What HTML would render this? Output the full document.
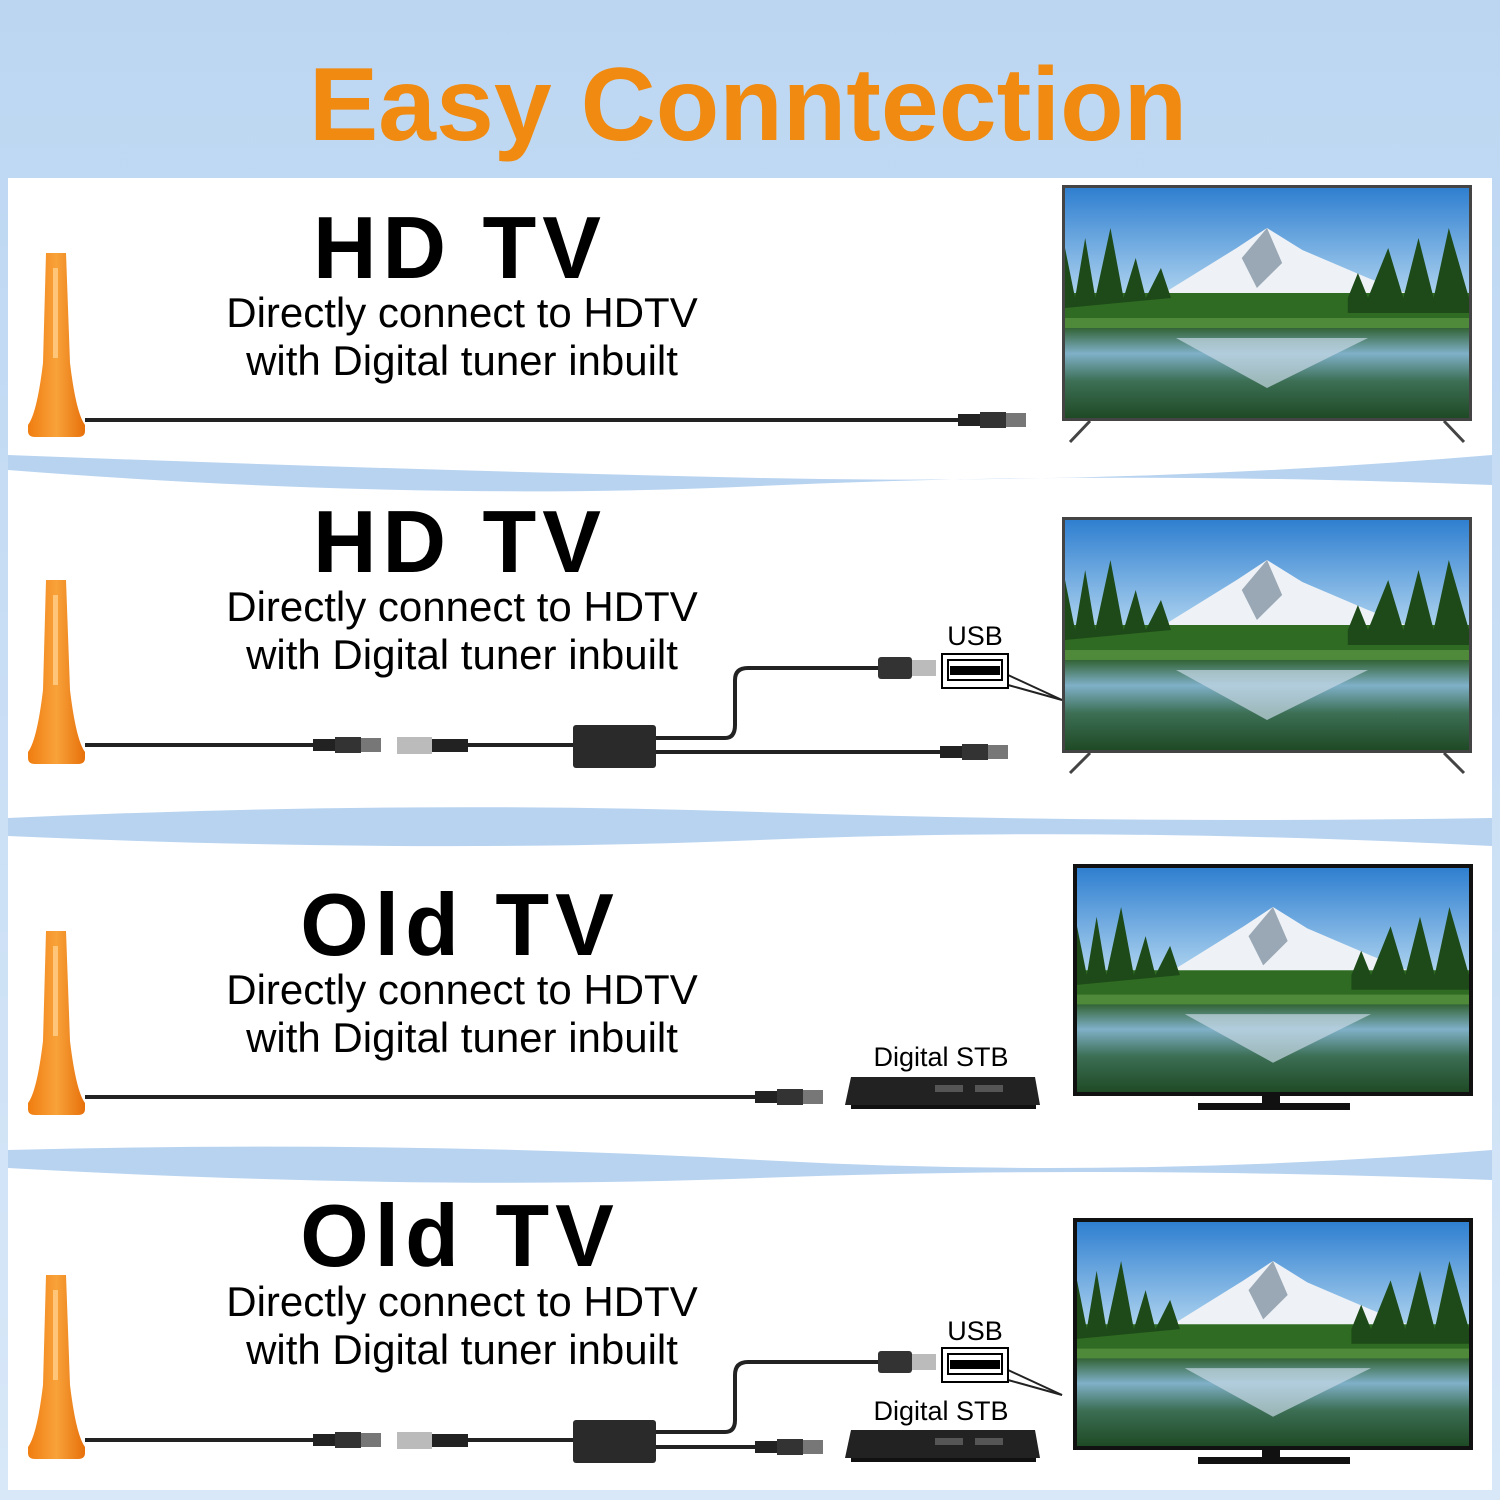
<!DOCTYPE html>
<html><head><meta charset="utf-8"><style>
html,body{margin:0;padding:0;width:1500px;height:1500px;overflow:hidden;background:#cfe0f5}
svg{display:block}
</style></head><body>
<svg width="1500" height="1500" viewBox="0 0 1500 1500" xmlns="http://www.w3.org/2000/svg">
<defs>
<linearGradient id="bg" x1="0" y1="0" x2="0" y2="1"><stop offset="0" stop-color="#bcd6f2"/><stop offset="1" stop-color="#d8e8f8"/></linearGradient>
<linearGradient id="sky" x1="0" y1="0" x2="0" y2="1"><stop offset="0" stop-color="#2f7fd0"/><stop offset="0.45" stop-color="#a9d0ee"/></linearGradient>
<linearGradient id="lake" x1="0" y1="0" x2="0" y2="1"><stop offset="0" stop-color="#2d5e2a"/><stop offset="0.3" stop-color="#7fb0c8"/><stop offset="0.6" stop-color="#3c6f55"/><stop offset="1" stop-color="#1f4a25"/></linearGradient>
<linearGradient id="ant" x1="0" y1="0" x2="1" y2="0"><stop offset="0" stop-color="#f07d10"/><stop offset="0.5" stop-color="#f8a23a"/><stop offset="1" stop-color="#e7700a"/></linearGradient>
<symbol id="scene" viewBox="0 0 400 230" preserveAspectRatio="none">
<rect width="400" height="230" fill="url(#sky)"/>
<polygon points="90,110 170,60 200,40 235,62 300,90 350,110" fill="#eef2f6"/>
<polygon points="200,40 215,75 190,100 175,70" fill="#9aa8b5"/>
<rect x="0" y="105" width="400" height="40" fill="#2f6b22"/>
<path d="M0,60 L10,110 L20,50 L30,110 L45,40 L58,110 L70,70 L80,110 L95,80 L105,110 L0,120Z" fill="#1d4a18"/>
<path d="M280,110 L290,85 L300,110 L320,60 L335,110 L350,50 L365,110 L380,40 L400,110 L400,125 L280,125Z" fill="#1d4a18"/>
<rect x="0" y="138" width="400" height="92" fill="url(#lake)"/>
<polygon points="110,150 200,200 300,150" fill="#c8d8e6" opacity="0.7"/>
<rect x="0" y="130" width="400" height="10" fill="#4f8a3a"/>
</symbol>
<g id="antenna">
<path d="M46,0 L66,0 L70,110 Q76,160 85,172 L85,178 Q85,184 78,184 L35,184 Q28,184 28,178 L28,172 Q37,160 43,110 Z" fill="url(#ant)"/>
<rect x="53" y="15" width="5" height="90" fill="#ffc67a"/>
</g>
<g id="conn">
<rect x="0" y="-6" width="22" height="12" fill="#222"/>
<rect x="22" y="-8" width="26" height="16" fill="#333"/>
<rect x="48" y="-7" width="20" height="14" fill="#777"/>
</g>
<g id="usb">
<rect x="0" y="-11" width="34" height="22" rx="3" fill="#333"/>
<rect x="34" y="-8" width="24" height="16" fill="#bbb"/>
<rect x="64" y="-14" width="66" height="34" fill="#fff" stroke="#000" stroke-width="2"/>
<rect x="70" y="-8" width="54" height="20" fill="#fff" stroke="#000" stroke-width="2"/>
<rect x="72" y="-2" width="50" height="9" fill="#000"/>
</g>
<g id="stb">
<path d="M6,0 L190,0 L195,28 L0,28 Z" fill="#222"/>
<rect x="90" y="8" width="28" height="7" fill="#555"/><rect x="130" y="8" width="28" height="7" fill="#555"/>
<rect x="6" y="28" width="185" height="4" fill="#111"/>
</g>
</defs>
<rect width="1500" height="1500" fill="url(#bg)"/>
<rect x="8" y="178" width="1484" height="1312" fill="#fff"/>
<path d="M8,455 Q400,470 760,478 T1492,455 L1492,485 Q1100,470 760,486 T8,470 Z" fill="#b7d3f0"/>
<path d="M8,818 Q400,800 760,812 T1492,818 L1492,846 Q1100,826 760,840 T8,836 Z" fill="#b7d3f0"/>
<path d="M8,1150 Q400,1140 760,1160 T1492,1150 L1492,1180 Q1100,1165 760,1178 T8,1168 Z" fill="#b7d3f0"/>
<text x="748" y="140" text-anchor="middle" font-family="Liberation Sans, sans-serif" font-weight="bold" font-size="104" fill="#f08a10">Easy Conntection</text>
<g font-family="Liberation Sans, sans-serif" text-anchor="middle">
<text x="460" y="278" font-weight="bold" font-size="88" letter-spacing="6">HD TV</text>
<text x="462" y="327" font-size="42">Directly connect to HDTV</text>
<text x="462" y="375" font-size="42">with Digital tuner inbuilt</text>
<text x="460" y="572" font-weight="bold" font-size="88" letter-spacing="6">HD TV</text>
<text x="462" y="621" font-size="42">Directly connect to HDTV</text>
<text x="462" y="669" font-size="42">with Digital tuner inbuilt</text>
<text x="460" y="955" font-weight="bold" font-size="88" letter-spacing="6">Old TV</text>
<text x="462" y="1004" font-size="42">Directly connect to HDTV</text>
<text x="462" y="1052" font-size="42">with Digital tuner inbuilt</text>
<text x="460" y="1266" font-weight="bold" font-size="88" letter-spacing="6">Old TV</text>
<text x="462" y="1316" font-size="42">Directly connect to HDTV</text>
<text x="462" y="1364" font-size="42">with Digital tuner inbuilt</text>
<text x="975" y="645" font-size="27">USB</text>
<text x="975" y="1340" font-size="27">USB</text>
<text x="941" y="1066" font-size="27">Digital STB</text>
<text x="941" y="1420" font-size="27">Digital STB</text>
</g>
<use href="#antenna" x="0" y="253"/>
<use href="#antenna" x="0" y="580"/>
<use href="#antenna" x="0" y="931"/>
<use href="#antenna" x="0" y="1275"/>
<g stroke="#222" stroke-width="4" fill="none">
<line x1="85" y1="420" x2="960" y2="420"/>
<line x1="85" y1="745" x2="320" y2="745"/>
<line x1="460" y1="745" x2="575" y2="745"/>
<line x1="655" y1="752" x2="945" y2="752"/>
<path d="M655,738 L725,738 Q735,738 735,725 L735,680 Q735,668 748,668 L880,668"/>
<line x1="1008" y1="675" x2="1062" y2="700" stroke-width="2"/>
<line x1="1008" y1="685" x2="1062" y2="700" stroke-width="2"/>
<line x1="85" y1="1097" x2="758" y2="1097"/>
<line x1="85" y1="1440" x2="320" y2="1440"/>
<line x1="460" y1="1440" x2="575" y2="1440"/>
<line x1="655" y1="1447" x2="760" y2="1447"/>
<path d="M655,1432 L725,1432 Q735,1432 735,1420 L735,1375 Q735,1362 748,1362 L880,1362"/>
<line x1="1008" y1="1370" x2="1062" y2="1395" stroke-width="2"/>
<line x1="1008" y1="1380" x2="1062" y2="1395" stroke-width="2"/>
</g>
<use href="#conn" x="958" y="420"/>
<use href="#conn" x="313" y="745"/>
<use href="#conn" x="940" y="752"/>
<use href="#conn" x="755" y="1097"/>
<use href="#conn" x="313" y="1440"/>
<use href="#conn" x="755" y="1447"/>
<rect x="397" y="737" width="35" height="17" fill="#bbb"/><rect x="432" y="739" width="36" height="13" fill="#222"/>
<rect x="397" y="1432" width="35" height="17" fill="#bbb"/><rect x="432" y="1434" width="36" height="13" fill="#222"/>
<rect x="573" y="725" width="83" height="43" rx="3" fill="#2a2a2a"/>
<rect x="573" y="1420" width="83" height="43" rx="3" fill="#2a2a2a"/>
<use href="#usb" x="878" y="668"/>
<use href="#usb" x="878" y="1362"/>
<use href="#stb" x="845" y="1077"/>
<use href="#stb" x="845" y="1430"/>
<rect x="1062" y="185" width="410" height="236" fill="#444"/>
<use href="#scene" x="1065" y="188" width="404" height="230"/>
<line x1="1090" y1="421" x2="1070" y2="442" stroke="#444" stroke-width="3"/><line x1="1444" y1="421" x2="1464" y2="442" stroke="#444" stroke-width="3"/>
<rect x="1062" y="517" width="410" height="236" fill="#444"/>
<use href="#scene" x="1065" y="520" width="404" height="230"/>
<line x1="1090" y1="753" x2="1070" y2="773" stroke="#444" stroke-width="3"/><line x1="1444" y1="753" x2="1464" y2="773" stroke="#444" stroke-width="3"/>
<rect x="1073" y="864" width="400" height="232" fill="#111"/>
<use href="#scene" x="1077" y="868" width="392" height="224"/>
<rect x="1262" y="1096" width="18" height="8" fill="#111"/><rect x="1198" y="1103" width="152" height="7" fill="#111"/>
<rect x="1073" y="1218" width="400" height="232" fill="#111"/>
<use href="#scene" x="1077" y="1222" width="392" height="224"/>
<rect x="1262" y="1450" width="18" height="8" fill="#111"/><rect x="1198" y="1457" width="152" height="7" fill="#111"/>
</svg>
</body></html>
